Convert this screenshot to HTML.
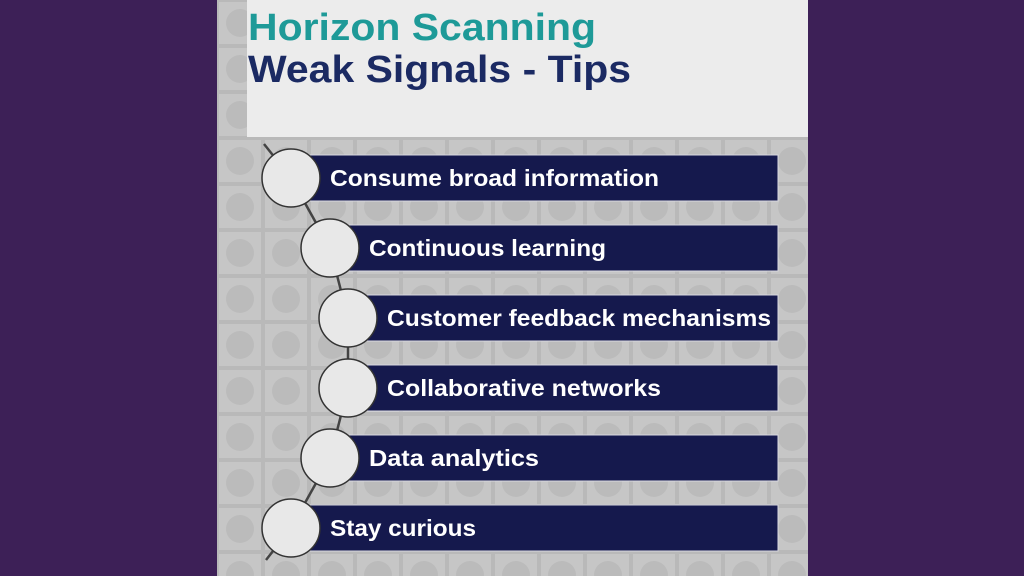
<!DOCTYPE html>
<html><head><meta charset="utf-8"><style>
html,body{margin:0;padding:0;width:1024px;height:576px;overflow:hidden;background:#3d2057;font-family:"Liberation Sans",sans-serif;}
</style></head><body>
<svg width="1024" height="576" viewBox="0 0 1024 576">
<defs>
<pattern id="grid" width="46" height="46" patternUnits="userSpaceOnUse" x="217" y="0">
<rect width="46" height="46" fill="#b9b9b9"/>
<rect x="2" y="2" width="42" height="42" fill="#c6c6c6"/>
<circle cx="23" cy="23" r="14" fill="#b0b0b0" opacity="0.5"/>
</pattern>
</defs>
<rect x="0" y="0" width="1024" height="576" fill="#3d2057"/>
<rect x="217" y="0" width="591" height="576" fill="url(#grid)"/>
<rect x="247" y="0" width="561" height="137" fill="#ececec"/>
<text x="248" y="40" font-size="38" font-weight="bold" fill="#1e9a98" textLength="348" lengthAdjust="spacingAndGlyphs">Horizon Scanning</text>
<text x="248" y="82" font-size="38" font-weight="bold" fill="#1b2a63" textLength="383" lengthAdjust="spacingAndGlyphs">Weak Signals - Tips</text>
<polyline points="264,144 291,178 330,248 348,318 348,388 330,458 291,528 266,560" fill="none" stroke="#444" stroke-width="2.5"/>
<g id="rows"></g>
</svg>
<script>
const labels=["Consume broad information","Continuous learning","Customer feedback mechanisms","Collaborative networks","Data analytics","Stay curious"];
const labelWidths=[329,237,384,274,170,146];
const circleX=[291,330,348,348,330,291];
const g=document.getElementById('rows');
const ns="http://www.w3.org/2000/svg";
labels.forEach((t,i)=>{
  const cy=178+i*70;
  const r=document.createElementNS(ns,'rect');
  r.setAttribute('x',circleX[i]);r.setAttribute('y',cy-23);
  r.setAttribute('width',778-circleX[i]);r.setAttribute('height',46);
  r.setAttribute('fill','#15194d');r.setAttribute('stroke','#d8d8e0');r.setAttribute('stroke-width','1');
  
  
  g.appendChild(r);
  const c=document.createElementNS(ns,'circle');
  c.setAttribute('cx',circleX[i]);c.setAttribute('cy',cy);c.setAttribute('r',29);
  c.setAttribute('fill','#e8e8e8');c.setAttribute('stroke','#333');c.setAttribute('stroke-width','1.5');
  
  
  g.appendChild(c);
  const tx=document.createElementNS(ns,'text');
  tx.setAttribute('x',circleX[i]+39);tx.setAttribute('y',cy+8);
  tx.setAttribute('font-size','23');tx.setAttribute('font-weight','bold');tx.setAttribute('fill','#ffffff');
  tx.setAttribute('textLength',labelWidths[i]);tx.setAttribute('lengthAdjust','spacingAndGlyphs');
  tx.textContent=t;
  
  
  g.appendChild(tx);
});
</script>
</body></html>
